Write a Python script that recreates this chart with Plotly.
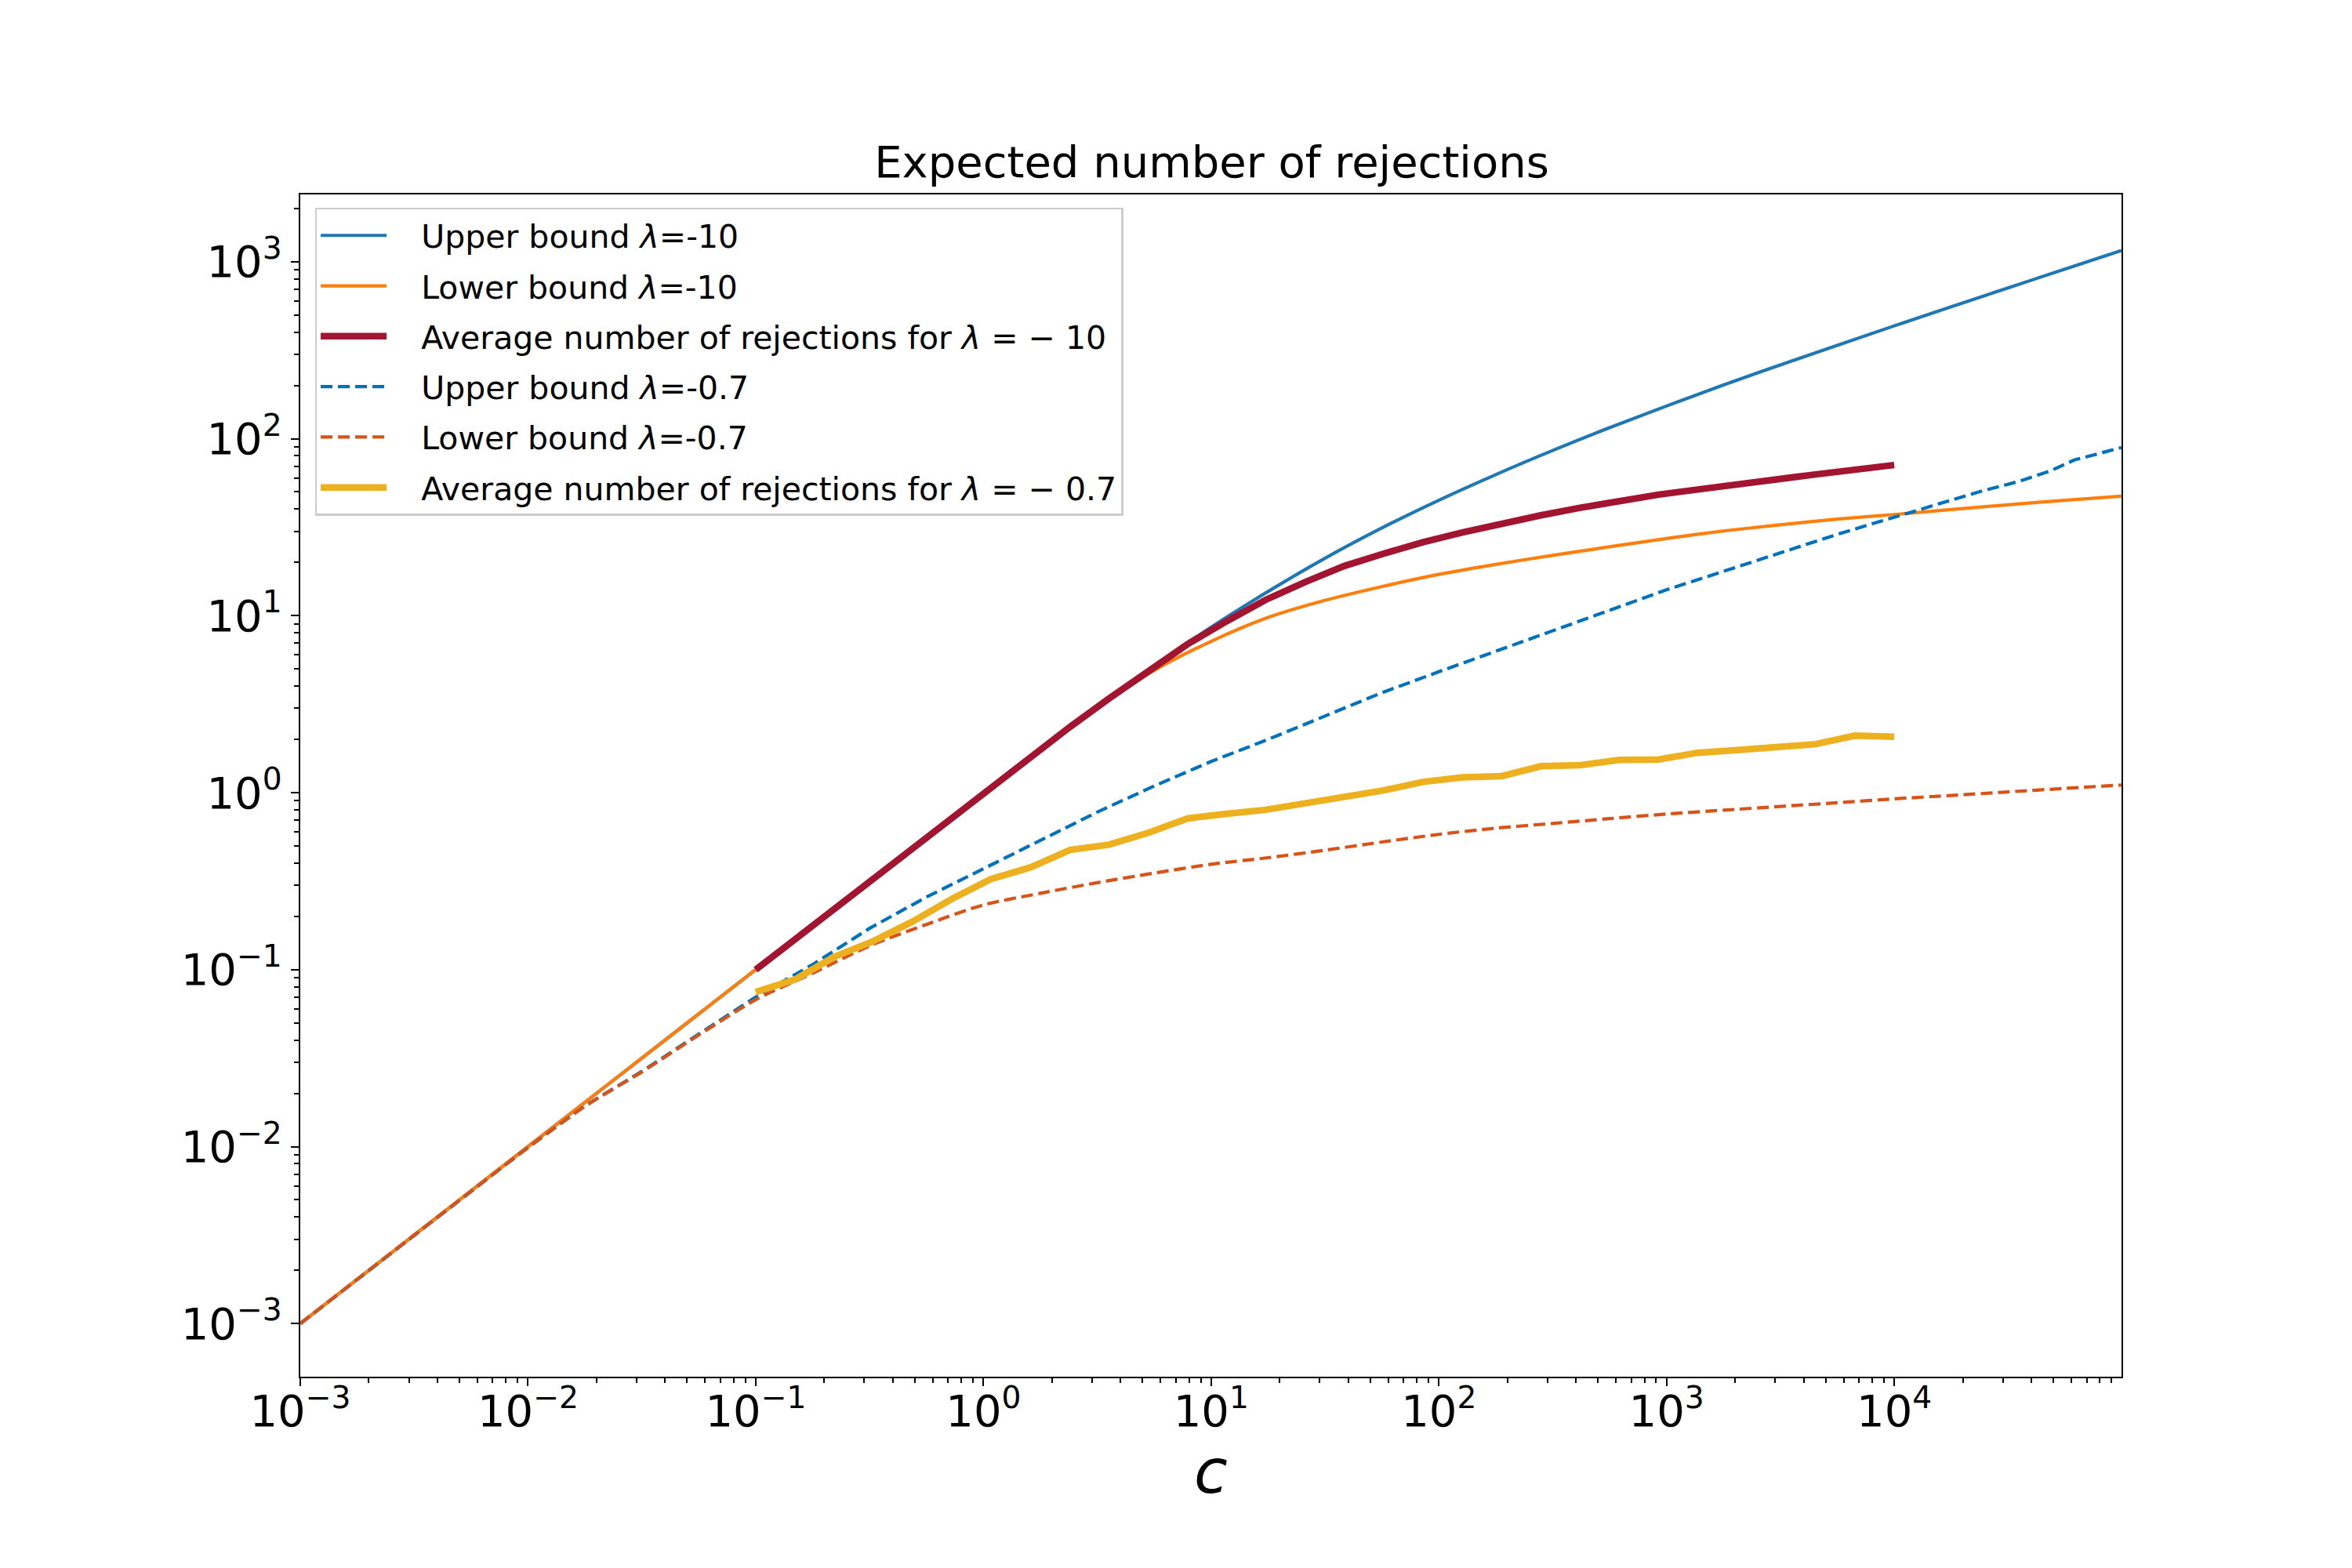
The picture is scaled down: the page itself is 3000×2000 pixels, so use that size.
import plotly.graph_objects as go

c_bound = [0.001, 0.00316, 0.01, 0.0178, 0.0316, 0.0562, 0.1, 0.178, 0.316, 0.562,
           1.0, 1.78, 3.16, 5.62, 10.0, 17.8, 31.6, 56.2, 100.0, 178.0, 316.0, 562.0,
           1000.0, 1780.0, 3160.0, 5620.0, 10000.0, 17800.0, 31600.0, 56200.0, 99500.0]

# lambda = -10
upper_10 = [0.001, 0.00316, 0.01, 0.0178, 0.0316, 0.0562, 0.1, 0.178, 0.316, 0.562,
            1.0, 1.77, 3.08, 5.22, 8.61, 13.7, 21.1, 31.3, 44.9, 62.7, 85.7, 115.3,
            153.0, 201.0, 261.0, 337.0, 434.0, 556.0, 711.0, 908.0, 1156.0]
lower_10 = [0.001, 0.00316, 0.01, 0.0178, 0.0316, 0.0562, 0.1, 0.178, 0.316, 0.562,
            0.99, 1.74, 2.99, 4.9, 7.16, 9.77, 12.2, 14.6, 17.1, 19.5, 21.9, 24.5,
            27.3, 30.1, 32.6, 35.1, 37.3, 39.8, 42.3, 44.9, 47.3]

# lambda = -0.7 (upper bound has a few small kinks near the right end)
c_upper_07 = [0.001, 0.00316, 0.01, 0.0178, 0.0316, 0.0562, 0.1, 0.178, 0.316, 0.562,
              1.0, 1.78, 3.16, 5.62, 10.0, 17.8, 31.6, 56.2, 100.0, 178.0, 316.0, 562.0,
              1000.0, 1780.0, 3160.0, 5620.0, 10000.0, 15850.0, 23990.0, 35480.0,
              48980.0, 61660.0, 99500.0]
upper_07 = [0.001, 0.00316, 0.00989, 0.017, 0.0266, 0.0432, 0.070, 0.107, 0.171, 0.257,
            0.372, 0.541, 0.776, 1.09, 1.50, 2.0, 2.70, 3.67, 4.82, 6.31, 8.22, 10.7,
            14.0, 17.8, 22.6, 28.8, 36.0, 43.2, 50.4, 57.5, 66.1, 75.7, 89.1]
lower_07 = [0.001, 0.00316, 0.00986, 0.0169, 0.0264, 0.0427, 0.0676, 0.0955, 0.136, 0.180,
            0.232, 0.270, 0.310, 0.351, 0.394, 0.429, 0.473, 0.526, 0.581, 0.630, 0.670,
            0.713, 0.757, 0.796, 0.836, 0.877, 0.923, 0.964, 1.01, 1.057, 1.104]

# simulated averages, 30 values of c between 0.1 and 1e4
c_avg = [0.1, 0.149, 0.221, 0.329, 0.489, 0.728, 1.08, 1.61, 2.4, 3.56,
         5.3, 7.88, 11.7, 17.4, 25.9, 38.5, 57.2, 85.1, 127.0, 189.0,
         281.0, 418.0, 621.0, 924.0, 1370.0, 2040.0, 3040.0, 4520.0, 6720.0, 10000.0]
avg_10 = [0.1, 0.149, 0.221, 0.328, 0.488, 0.725, 1.08, 1.59, 2.35, 3.40,
          4.9, 6.9, 9.3, 12.3, 15.5, 19.1, 22.4, 26.0, 29.5, 33.1,
          36.9, 40.7, 44.7, 48.3, 51.6, 55.6, 58.9, 62.8, 67.0, 71.0]
avg_07 = [0.0747, 0.088, 0.118, 0.145, 0.187, 0.251, 0.325, 0.378, 0.475, 0.508,
          0.593, 0.715, 0.759, 0.80, 0.87, 0.95, 1.03, 1.15, 1.22, 1.24,
          1.41, 1.43, 1.53, 1.54, 1.68, 1.74, 1.81, 1.88, 2.10, 2.07]

x_exps = [-3, -2, -1, 0, 1, 2, 3, 4]
y_exps = [-3, -2, -1, 0, 1, 2, 3]
GAP = '\u00a0\u00a0\u00a0'  # space between legend line and label

thin = 4.2
thick = 8.5
dashed = '15px,7px'


def power_label(e):
    return '10<sup>%s</sup>' % str(e).replace('-', '−')


def minor_vals(exps):
    return [k * 10.0 ** e for e in exps for k in range(2, 10)]


fig = go.Figure()
fig.add_trace(go.Scatter(x=c_bound, y=upper_10, mode='lines', legendgroup='a',
                         name=GAP + 'Upper bound <i>λ</i>=-10',
                         line=dict(color='#1f77b4', width=thin, shape='spline', smoothing=1.0)))
fig.add_trace(go.Scatter(x=c_bound, y=lower_10, mode='lines', legendgroup='b',
                         name=GAP + 'Lower bound <i>λ</i>=-10',
                         line=dict(color='#ff7f0e', width=thin, shape='spline', smoothing=0.8)))
fig.add_trace(go.Scatter(x=c_avg, y=avg_10, mode='lines', legendgroup='c',
                         name=GAP + 'Average number of rejections for <i>λ</i> = − 10',
                         line=dict(color='#A2142F', width=thick)))
fig.add_trace(go.Scatter(x=c_upper_07, y=upper_07, mode='lines', legendgroup='d',
                         name=GAP + 'Upper bound <i>λ</i>=-0.7',
                         line=dict(color='#0072BD', width=thin, dash=dashed)))
fig.add_trace(go.Scatter(x=c_bound, y=lower_07, mode='lines', legendgroup='e',
                         name=GAP + 'Lower bound <i>λ</i>=-0.7',
                         line=dict(color='#D95319', width=thin, dash=dashed,
                                   shape='spline', smoothing=0.8)))
fig.add_trace(go.Scatter(x=c_avg, y=avg_07, mode='lines', legendgroup='f',
                         name=GAP + 'Average number of rejections for <i>λ</i> = − 0.7',
                         line=dict(color='#EDB120', width=thick)))

axis_style = dict(type='log', showgrid=False, zeroline=False, showline=True, mirror=True,
                  linecolor='black', linewidth=2.2, ticks='outside', ticklen=10,
                  tickwidth=2.2, tickcolor='black',
                  tickfont=dict(family='DejaVu Sans', size=56, color='black'))

fig.update_xaxes(range=[-3, 4.998],
                 tickmode='array', tickvals=[10.0 ** e for e in x_exps],
                 ticktext=[power_label(e) for e in x_exps],
                 ticklabelstandoff=-16,
                 minor=dict(tickmode='array', tickvals=minor_vals(x_exps), ticks='outside',
                            ticklen=5.5, tickwidth=1.7, tickcolor='black', showgrid=False),
                 title=dict(text='<i>c</i>', standoff=0,
                            font=dict(family='DejaVu Sans', size=78, color='black')),
                 **axis_style)
fig.update_yaxes(range=[-3.30, 3.38],
                 tickmode='array', tickvals=[10.0 ** e for e in y_exps],
                 ticktext=[power_label(e) for e in y_exps],
                 minor=dict(tickmode='array', tickvals=minor_vals(y_exps), ticks='outside',
                            ticklen=5.5, tickwidth=1.7, tickcolor='black', showgrid=False),
                 **axis_style)

fig.update_layout(
    width=3000, height=2000, autosize=False,
    paper_bgcolor='white', plot_bgcolor='white',
    margin=dict(l=375, r=302, t=240, b=252),
    font=dict(family='DejaVu Sans', color='black'),
    title=dict(text='Expected number of rejections', x=0.5125, xanchor='center',
               yref='container', y=0.891, yanchor='bottom',
               font=dict(family='DejaVu Sans', size=56, color='black')),
    legend=dict(x=0.008, y=0.989, xanchor='left', yanchor='top',
                font=dict(family='DejaVu Sans', size=41, color='black'),
                bgcolor='rgba(255,255,255,0.8)', bordercolor='#cccccc', borderwidth=2.5,
                tracegroupgap=8, itemwidth=84),
)

fig.write_html("out.html")
